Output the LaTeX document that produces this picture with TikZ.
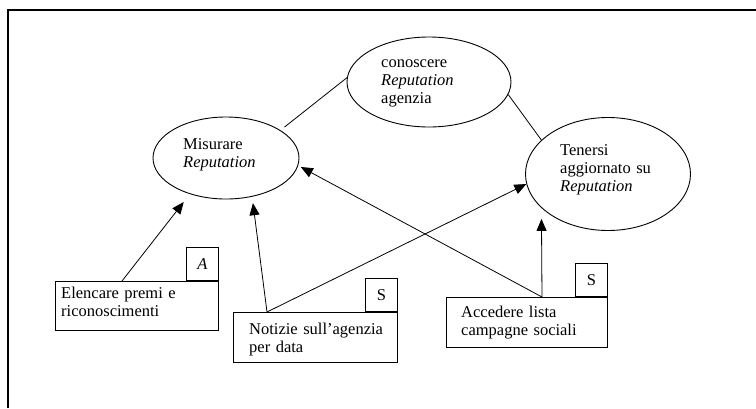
\documentclass[tikz,border=0pt]{standalone}
\usepackage{fontspec}
\setmainfont{Liberation Serif}
\usetikzlibrary{shapes.geometric,arrows.meta}
\begin{document}
\begin{tikzpicture}[x=1pt,y=-1pt,
  every node/.style={font=\fontsize{16.5}{18}\selectfont},
  usecase/.style={ellipse,draw,line width=0.9pt,inner sep=0pt},
  actbox/.style={draw,line width=0.9pt,inner sep=0pt,anchor=north west},
  tabbox/.style={draw,line width=0.9pt,inner sep=0pt,minimum width=32pt,minimum height=33pt,anchor=south east},
  txt/.style={anchor=base west,inner sep=0pt,align=left,text width=150pt},
  link/.style={line width=0.8pt},
  arr/.style={line width=0.8pt,-{Triangle[length=12pt,width=10pt]}}]
\useasboundingbox (0,0) rectangle (756,408);
\fill[white] (0,0) rectangle (756,408);
% outer frame
\draw[line width=1.2pt] (8,408) -- (8,10) -- (756,10);

% use cases
\node[usecase,minimum width=164pt,minimum height=90pt] (con) at (429,82) {};
\node[usecase,minimum width=146pt,minimum height=82pt] (mis) at (226,158) {};
\node[usecase,minimum width=165pt,minimum height=113pt] (ten) at (608,174) {};
\node[txt] (tcon) at (381,67) {conoscere\\\textit{Reputation}\\agenzia};
\node[txt] (tmis) at (183,149) {Misurare\\\textit{Reputation}};
\node[txt] (tten) at (560,155) {Tenersi\\aggiornato su\\\textit{Reputation}};

% activity boxes with their tabs
\node[actbox,minimum width=163pt,minimum height=49pt] (elenc) at (55,281) {};
\node[tabbox] (elenctab) at (elenc.north east) {\textit{A}};
\node[txt] (telenc) at (61,298) {Elencare premi e\\riconoscimenti};

\node[actbox,minimum width=164pt,minimum height=50pt] (noti) at (233,312) {};
\node[tabbox] (notitab) at (noti.north east) {S};
\node[txt] (tnoti) at (249,334) {Notizie sull’agenzia\\per data};

\node[actbox,minimum width=161pt,minimum height=50pt] (acc) at (446,297) {};
\node[tabbox] (acctab) at (acc.north east) {S};
\node[txt] (tacc) at (461,317) {Accedere lista\\campagne sociali};

% links between use cases
\draw[link,shorten >=5pt] (con.177) -- (mis.27.8);
\draw[link] (con.-9.1) -- (ten.153.3);

% arrows from activities
\draw[arr,shorten >=10pt] ([xshift=67pt]elenc.north west) -- (mis.-135.7);
\draw[arr,shorten >=6.5pt] ([xshift=34pt]noti.north west) -- (mis.-56.9);
\draw[arr] ([xshift=34pt]noti.north west) -- (ten.-173.4);
\draw[arr,shorten >=11pt] ([xshift=96pt]acc.north west) -- (ten.-153.3);
\draw[arr,shorten >=3pt] ([xshift=96pt]acc.north west) -- (mis.-6.9);
\end{tikzpicture}
\end{document}
